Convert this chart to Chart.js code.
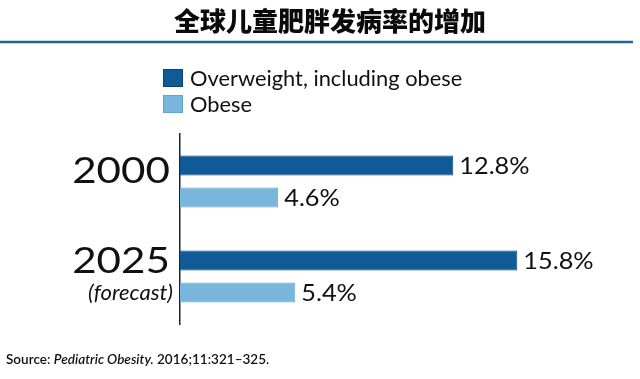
<!DOCTYPE html>
<html><head><meta charset="utf-8">
<script src="https://cdn.jsdelivr.net/npm/chart.js@4/dist/chart.umd.min.js"></script>
<style>html,body{margin:0;padding:0;background:#fff}#wrap{width:640px;height:379px;position:relative}</style>
</head><body><div id="wrap"><canvas id="c" width="640" height="379"></canvas></div>
<script>
const titleText = "全球儿童肥胖发病率的增加";
const categories = ["2000", "2025"];
const subLabels = ["", "(forecast)"];
const seriesNames = ["Overweight, including obese", "Obese"];
const overweight = [12.8, 15.8];
const obese = [4.6, 5.4];
const sourceParts = [["Source: ", "normal"], ["Pediatric Obesity.", "italic"], [" 2016;11:321–325.", "normal"]];

const darkFill = "#0f5b97", darkBorder = "#0a4474";
const lightFill = "#78b6db", lightBorder = "#62a4cc";

function wideText(ctx, text, x, y, sx, align) {
  const w = ctx.measureText(text).width * sx;
  let left = x;
  if (align === "right") left = x - w;
  else if (align === "center") left = x - w / 2;
  ctx.save();
  ctx.textAlign = "left";
  ctx.translate(left, y);
  ctx.scale(sx, 1);
  ctx.fillText(text, 0, 0);
  ctx.restore();
  return w;
}

const deco = {
  id: "deco",
  afterDraw(chart) {
    const ctx = chart.ctx;
    ctx.save();
    // title
    ctx.fillStyle = "#0a0a0a";
    ctx.font = "900 26px 'Noto Sans CJK SC'";
    ctx.textAlign = "center"; ctx.textBaseline = "middle";
    ctx.fillText(titleText, 330, 21);
    ctx.strokeStyle = "#1d6893"; ctx.lineWidth = 2.5;
    ctx.beginPath(); ctx.moveTo(0, 42); ctx.lineTo(633, 42); ctx.stroke();
    // legend
    const ds = chart.data.datasets;
    ds.forEach((d, i) => {
      const y = 69 + i * 26;
      ctx.fillStyle = d.borderColor; ctx.fillRect(163, y, 20, 18);
      ctx.fillStyle = d.backgroundColor; ctx.fillRect(164, y + 1, 18, 16);
      ctx.fillStyle = "#111"; ctx.font = "21px Lato";
      ctx.textBaseline = "middle";
      wideText(ctx, d.label, 190, y + 10, 1.04, "left");
    });
    // category labels
    const ys = chart.scales.y;
    categories.forEach((c, i) => {
      const cy = ys.getPixelForValue(i);
      ctx.fillStyle = "#111";
      ctx.textBaseline = "middle";
      ctx.font = "37px Lato";
      const hasSub = subLabels[i] !== "";
      wideText(ctx, c, 170, hasSub ? cy - 15 : cy - 10, 1.14, "right");
      if (hasSub) {
        ctx.font = "italic 21px Lato";
        wideText(ctx, subLabels[i], 173, cy + 17, 1.05, "right");
      }
    });
    // value labels
    ctx.font = "23px Lato"; ctx.fillStyle = "#111";
    ctx.textBaseline = "middle";
    ds.forEach((d, di) => {
      chart.getDatasetMeta(di).data.forEach((el, j) => {
        wideText(ctx, d.data[j].toFixed(1) + "%", el.x + 6, el.y + 1, 1.1, "left");
      });
    });
    // source
    let x = 6;
    ctx.textBaseline = "middle";
    sourceParts.forEach(([t, st]) => {
      ctx.font = (st === "italic" ? "italic " : "") + "600 13px Lato";
      x += wideText(ctx, t, x, 360, 1.04, "left");
    });
    ctx.restore();
  }
};

new Chart(document.getElementById("c"), {
  type: "bar",
  data: {
    labels: categories,
    datasets: [
      { label: seriesNames[0], data: overweight, backgroundColor: darkFill, borderColor: darkBorder, borderWidth: 1, borderSkipped: "left" },
      { label: seriesNames[1], data: obese, backgroundColor: lightFill, borderColor: lightBorder, borderWidth: 1, borderSkipped: "left" }
    ]
  },
  options: {
    indexAxis: "y",
    responsive: false,
    animation: false,
    events: [],
    layout: { padding: { left: 180, right: 33, top: 134, bottom: 55 } },
    categoryPercentage: 0.674,
    barPercentage: 0.625,
    plugins: { legend: { display: false }, title: { display: false }, tooltip: { enabled: false } },
    scales: {
      x: { display: false, min: 0, max: 20 },
      y: {
        display: true,
        ticks: { display: false },
        grid: { display: false, drawTicks: false },
        border: { display: true, color: "#222", width: 1.5 }
      }
    }
  },
  plugins: [deco]
});
</script></body></html>
